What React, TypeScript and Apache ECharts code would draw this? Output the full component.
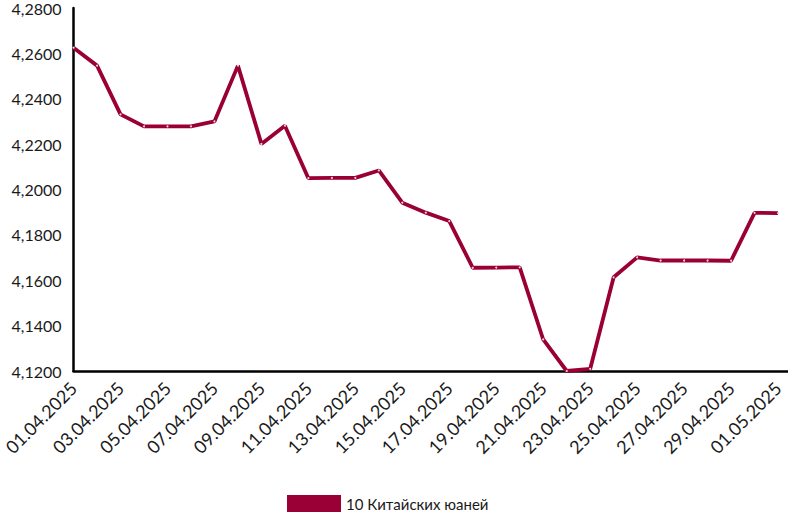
import React, { useEffect, useRef } from "react";
import * as echarts from "echarts";

const dates = [
  "01.04.2025", "02.04.2025", "03.04.2025", "04.04.2025", "05.04.2025", "06.04.2025",
  "07.04.2025", "08.04.2025", "09.04.2025", "10.04.2025", "11.04.2025", "12.04.2025",
  "13.04.2025", "14.04.2025", "15.04.2025", "16.04.2025", "17.04.2025", "18.04.2025",
  "19.04.2025", "20.04.2025", "21.04.2025", "22.04.2025", "23.04.2025", "24.04.2025",
  "25.04.2025", "26.04.2025", "27.04.2025", "28.04.2025", "29.04.2025", "30.04.2025",
  "01.05.2025",
];

const values = [
  4.2625, 4.2546, 4.2331, 4.2278, 4.2278, 4.2278, 4.23, 4.2546, 4.2201, 4.2281,
  4.205, 4.2051, 4.2051, 4.2084, 4.1942, 4.1898, 4.1861, 4.1655, 4.1656, 4.1657,
  4.1339, 4.12, 4.1209, 4.1613, 4.1701, 4.1687, 4.1687, 4.1687, 4.1686, 4.1897,
  4.1896,
];

const seriesName = "10 Китайских юаней";

export default function App() {
  const ref = useRef<HTMLDivElement>(null);
  useEffect(() => {
    if (!ref.current) return;
    const chart = echarts.init(ref.current, undefined, { renderer: "svg" });
    const color = "#9a0036";
    chart.setOption({
      animation: false,
      textStyle: { fontFamily: "Lato" },
      grid: { left: 72, right: 0, top: 6, bottom: 154, containLabel: false },
      legend: {
        bottom: 8,
        left: 282,
        icon: "rect",
        itemWidth: 54,
        itemHeight: 17,
        itemGap: 8,
        textStyle: { fontSize: 15, color: "#1a1a1a", fontFamily: "Lato" },
        data: [{ name: seriesName, itemStyle: { color } }],
      },
      xAxis: {
        type: "value",
        min: 0,
        max: 30.425,
        interval: 2,
        splitLine: { show: false },
        axisTick: { show: false },
        axisLine: { show: true, lineStyle: { color: "#000", width: 2.5 } },
        axisLabel: {
          rotate: 45,
          fontSize: 18,
          color: "#1a1a1a",
          margin: 14,
          showMaxLabel: false,
          formatter: (v: number) => {
            const i = Math.round(v);
            return Math.abs(v - i) < 1e-6 && dates[i] ? dates[i] : "";
          },
        },
      },
      yAxis: {
        type: "value",
        min: 4.12,
        max: 4.28,
        interval: 0.02,
        splitLine: { show: false },
        axisTick: { show: false },
        axisLine: { show: true, lineStyle: { color: "#000", width: 2.5 } },
        axisLabel: {
          fontSize: 16,
          color: "#1a1a1a",
          margin: 12,
          formatter: (v: number) => v.toFixed(4).replace(".", ","),
        },
      },
      series: [
        {
          name: seriesName,
          type: "line",
          data: values.map((v, i) => [i, v]),
          lineStyle: { color, width: 3.8 },
          itemStyle: { color: "#f3d6de", borderWidth: 0 },
          symbol: "circle",
          symbolSize: 2,
          showSymbol: true,
        },
      ],
    });
    return () => chart.dispose();
  }, []);
  return <div ref={ref} style={{ width: 788, height: 525, position: "absolute", left: 0, top: 0 }} />;
}
